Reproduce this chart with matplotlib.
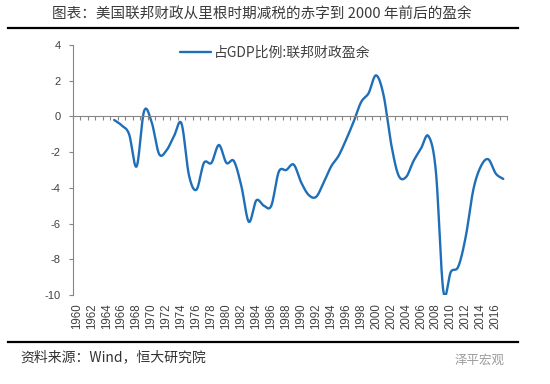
import numpy as np
import matplotlib
matplotlib.use("Agg")
import matplotlib.pyplot as plt
from matplotlib.lines import Line2D

plt.rcParams['font.family'] = ['Noto Sans CJK SC', 'DejaVu Sans']

# ---- data ----
first_year, last_year = 1960, 2017
data_years = list(range(1965, 2018))
surplus = [-0.2, -0.5, -1.0, -2.8, 0.3, -0.3, -2.1, -1.9, -1.1, -0.4,
           -3.3, -4.1, -2.6, -2.6, -1.6, -2.6, -2.5, -3.9, -5.9, -4.7,
           -5.0, -5.0, -3.1, -3.0, -2.7, -3.7, -4.4, -4.5, -3.7, -2.8,
           -2.2, -1.3, -0.3, 0.8, 1.3, 2.3, 1.2, -1.5, -3.3, -3.4,
           -2.5, -1.8, -1.1, -3.1, -9.8, -8.7, -8.4, -6.7, -4.1, -2.8,
           -2.4, -3.2, -3.5]
series_name = "占GDP比例:联邦财政盈余"
title = "图表：美国联邦财政从里根时期减税的赤字到 2000 年前后的盈余"
source = "资料来源：Wind，恒大研究院"
watermark = "泽平宏观"
yticks = [4, 2, 0, -2, -4, -6, -8, -10]

categories = list(range(first_year, last_year + 1))
label_years = categories[::2]


def catmull_rom(x, y, n=24):
    x = np.asarray(x, float)
    y = np.asarray(y, float)
    px = np.concatenate([[2 * x[0] - x[1]], x, [2 * x[-1] - x[-2]]])
    py = np.concatenate([[2 * y[0] - y[1]], y, [2 * y[-1] - y[-2]]])
    xs, ys = [], []
    t = np.linspace(0, 1, n, endpoint=False)
    for i in range(1, len(px) - 2):
        for p, out in ((px, xs), (py, ys)):
            p0, p1, p2, p3 = p[i - 1], p[i], p[i + 1], p[i + 2]
            out.extend(0.5 * ((2 * p1) + (-p0 + p2) * t +
                              (2 * p0 - 5 * p1 + 4 * p2 - p3) * t ** 2 +
                              (-p0 + 3 * p1 - 3 * p2 + p3) * t ** 3))
    xs.append(x[-1])
    ys.append(y[-1])
    return np.array(xs), np.array(ys)


fig = plt.figure(figsize=(5.5, 3.84), dpi=100)
ax = fig.add_axes([73 / 550, 1 - 295 / 384, (507 - 73) / 550, (295 - 45) / 384])

xi = [categories.index(yr) for yr in data_years]
sx, sy = catmull_rom(xi, surplus)
line, = ax.plot(sx, sy, color='#1f6fb8', lw=1.7, solid_capstyle='round',
                label=series_name)

ax.set_xlim(-0.5, len(categories) - 0.5)
ax.set_ylim(min(yticks), max(yticks))

axis_gray = '#868686'
text_col = '#404040'
for s in ['top', 'right']:
    ax.spines[s].set_visible(False)
ax.spines['left'].set_color(axis_gray)
ax.spines['bottom'].set_color(axis_gray)
ax.spines['bottom'].set_position(('data', 0))

ax.set_yticks(yticks)
ax.set_yticklabels([str(v) for v in yticks], family=['Liberation Sans', 'DejaVu Sans'],
                   fontsize=8, color=text_col)
ax.tick_params(axis='y', direction='out', length=3, color=axis_gray, pad=6)

bounds = np.arange(len(categories) + 1) - 0.5
ax.set_xticks(bounds)
ax.tick_params(axis='x', direction='out', length=3, color=axis_gray,
               labelbottom=False)

sec = ax.secondary_xaxis('bottom')
sec.set_xticks([categories.index(yr) for yr in label_years])
sec.set_xticklabels([str(yr) for yr in label_years], rotation=90,
                    family=['Liberation Sans Narrow', 'Liberation Sans', 'DejaVu Sans'],
                    fontsize=8.3, color=text_col)
sec.tick_params(length=0, pad=6)
sec.spines['bottom'].set_visible(False)

leg = ax.legend(handles=[line], loc='center left', frameon=False,
                bbox_to_anchor=(180 / 550, 1 - 53 / 384),
                bbox_transform=fig.transFigure, borderpad=0, borderaxespad=0,
                handlelength=2.2, handletextpad=0.25, fontsize=10)
for t in leg.get_texts():
    t.set_color(text_col)

# header / footer
fig.text(262 / 550, 1 - 14 / 384, title, ha='center', va='center',
         fontsize=10.5, color='#3a3a3a')
fig.add_artist(Line2D([8 / 550, 518 / 550], [1 - 28 / 384] * 2,
                      color='black', lw=1.6))
fig.add_artist(Line2D([8 / 550, 518 / 550], [1 - 342 / 384] * 2,
                      color='black', lw=1.6))
fig.text(20 / 550, 1 - 357 / 384, source, ha='left', va='center',
         fontsize=10, color='#333333', style='italic')
fig.text(505 / 550, 1 - 360 / 384, watermark, ha='right', va='center',
         fontsize=9, color='#9a9a9a')

fig.savefig('out.png', dpi=100)
